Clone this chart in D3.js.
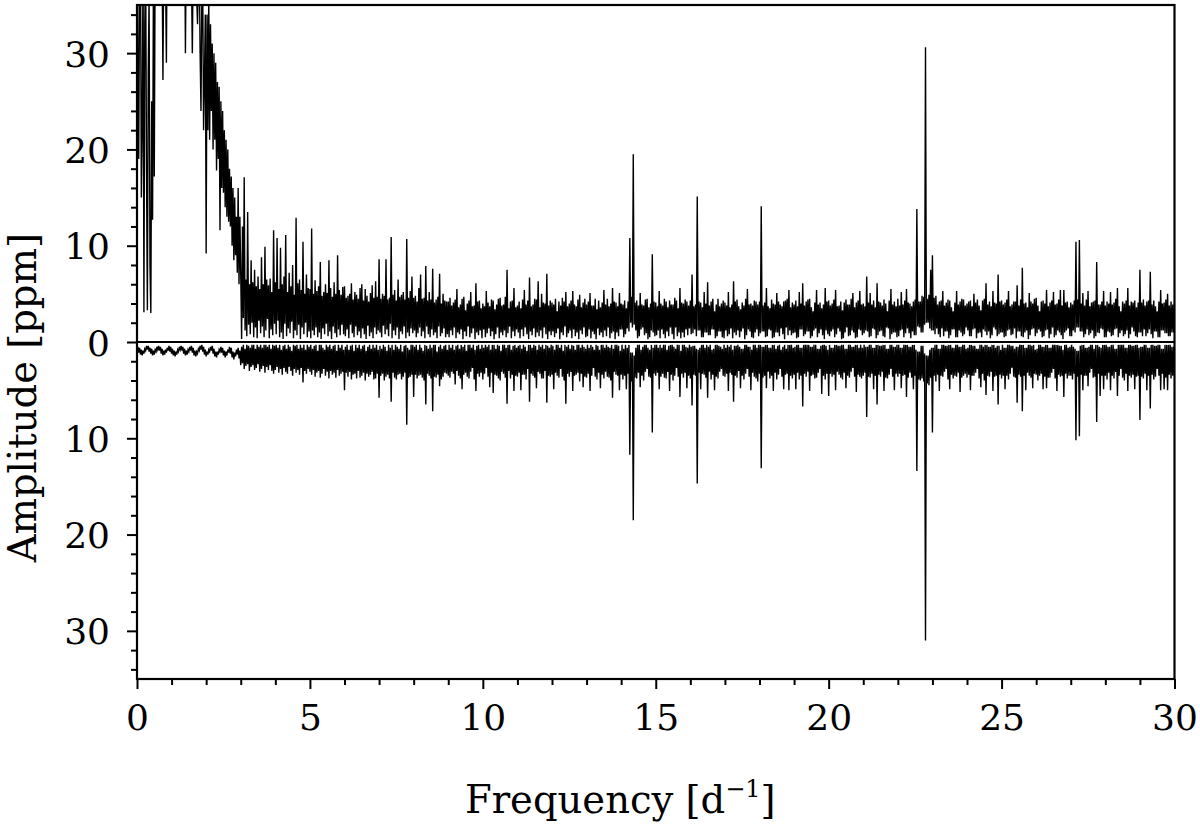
<!DOCTYPE html>
<html>
<head>
<meta charset="utf-8">
<script src="https://cdn.jsdelivr.net/npm/d3@7"></script>
<style>
  body { margin: 0; background: #fff; }
  svg { display: block; font-family: "DejaVu Serif", serif; }
</style>
</head>
<body>
<div class="chart"></div>
<script>
// periodogram sampled every 0.025 d^-1 from 0 to 30 (one row = 1 d^-1)
var freqStep = 0.025;

// upper spectrum amplitude [ppm]
var upperAmp = [
  45, 30, 19, 38, 42, 15, 22, 40, 3.1, 33, 40, 18, 3.3, 28, 36, 8, 3.0, 25, 12.7, 38, 17.2, 40, 48, 52, 55, 54, 50, 48, 46, 40, 27.2, 42, 44, 38, 29, 45, 50, 54, 58, 60,
  60, 61, 62, 63, 64, 64, 63, 62, 60, 59, 58, 56, 55, 52, 50, 46, 30, 42, 45, 44, 42, 41, 40, 38, 30, 40, 45, 42, 38, 36, 33, 38, 40, 30, 24, 36, 37, 22, 27, 34,
  9.2, 34, 22, 36, 21, 33, 24, 31, 20, 30, 21, 29, 17.8, 27, 19, 26.5, 11.6, 25, 16, 24, 15.5, 22, 14, 21, 13, 20, 12.5, 18, 12, 17.2, 10, 16, 8.5, 15, 9, 13, 7.2, 16, 6, 13,
  7.0, 0.3, 12, 2.5, 17.1, 1.2, 6.5, 0.6, 13.5, 1.8, 6.0, 0.8, 8.5, 2.0, 6.2, 0.5, 7.5, 1.5, 5.8, 0.4, 6.8, 2.2, 5.5, 0.9, 8.8, 1.6, 6.0, 0.5, 9.9, 1.2, 6.5, 2.4, 5.9, 0.4, 6.6, 1.3, 5.2, 0.7, 11.6, 1.9,
  6.2, 0.8, 10.8, 2.2, 5.5, 0.5, 9.8, 1.0, 6.0, 0.3, 6.8, 1.9, 11.1, 0.6, 5.2, 1.4, 7.2, 0.9, 5.8, 2.1, 8.0, 0.4, 4.9, 1.2, 12.9, 0.7, 6.1, 1.8, 6.5, 0.3, 5.4, 1.5, 10.4, 0.8, 5.0, 2.0, 7.0, 0.5, 5.6, 1.1,
  5.5, 0.4, 11.8, 1.2, 5.0, 0.7, 6.4, 1.5, 5.3, 0.5, 5.8, 1.0, 8.3, 0.3, 4.8, 1.4, 5.2, 0.8, 6.0, 1.9, 5.1, 0.6, 8.5, 1.1, 5.6, 0.3, 4.7, 1.6, 6.2, 0.9, 5.0, 0.5, 9.0, 1.3, 5.4, 0.7, 4.9, 1.8, 5.7, 0.8,
  5.8, 0.6, 4.6, 1.3, 4.8, 0.4, 5.0, 1.8, 6.1, 0.9, 4.4, 0.5, 5.2, 1.6, 4.9, 0.7, 4.5, 1.1, 5.6, 0.4, 6.0, 1.4, 4.3, 0.8, 5.5, 0.3, 4.8, 1.7, 4.2, 0.6, 5.1, 1.0, 5.9, 0.4, 4.6, 1.5, 6.3, 0.8, 4.7, 1.2,
  8.6, 1.0, 4.5, 0.5, 5.0, 1.7, 4.8, 0.8, 8.6, 1.3, 4.4, 0.6, 4.6, 1.9, 10.9, 0.4, 4.9, 1.2, 5.4, 0.7, 4.3, 1.5, 6.5, 0.3, 4.7, 1.1, 4.9, 0.8, 5.2, 1.6, 4.4, 0.4, 10.7, 1.0, 4.6, 0.6, 5.3, 1.4, 6.8, 0.9,
  4.6, 1.2, 4.8, 0.5, 4.2, 0.9, 5.6, 1.5, 7.0, 0.6, 4.5, 1.1, 4.6, 0.4, 7.9, 1.6, 4.3, 0.8, 5.2, 0.5, 4.4, 1.3, 7.6, 0.7, 4.1, 1.0, 4.4, 0.4, 4.7, 1.6, 7.1, 0.6, 4.0, 0.9, 5.0, 1.4, 4.3, 0.5, 4.2, 0.8,
  4.2, 0.5, 4.6, 1.2, 3.8, 0.7, 4.1, 1.5, 4.4, 0.4, 5.5, 1.0, 3.6, 0.8, 3.9, 1.3, 4.5, 0.3, 4.7, 1.1, 3.3, 0.6, 4.0, 1.6, 4.3, 0.5, 5.2, 0.9, 3.7, 1.4, 3.8, 0.3, 6.1, 1.0, 4.2, 0.7, 4.3, 1.2, 3.5, 0.4,
  4.0, 1.3, 3.7, 0.5, 5.3, 0.9, 4.1, 1.4, 3.7, 0.6, 4.4, 1.1, 4.3, 0.3, 3.4, 0.8, 3.9, 1.5, 4.5, 0.4, 4.6, 1.0, 3.8, 0.7, 3.9, 1.2, 4.7, 0.5, 7.5, 0.9, 3.5, 1.6, 4.2, 0.4, 4.3, 1.1, 5.6, 0.6, 3.6, 1.3,
  3.8, 1.0, 4.2, 0.4, 3.5, 1.3, 4.4, 0.6, 5.4, 1.5, 3.9, 0.8, 4.3, 0.3, 6.7, 1.1, 3.7, 0.7, 3.9, 1.4, 4.5, 0.5, 4.4, 1.0, 6.3, 0.6, 3.6, 1.2, 5.0, 0.4, 4.1, 1.5, 4.0, 0.8, 7.1, 0.3, 3.8, 1.1, 4.3, 0.7,
  4.1, 1.1, 3.9, 0.5, 4.5, 0.9, 3.2, 1.4, 4.2, 0.3, 3.8, 1.0, 4.6, 0.7, 4.2, 1.6, 5.2, 0.5, 3.7, 0.9, 4.0, 1.2, 4.3, 0.4, 5.3, 1.3, 3.9, 0.6, 3.7, 1.0, 4.4, 0.3, 4.9, 1.2, 3.6, 0.8, 4.1, 1.5, 4.5, 0.5,
  3.9, 0.6, 4.2, 1.3, 5.1, 0.4, 3.8, 1.1, 3.8, 0.8, 4.5, 0.3, 3.4, 1.4, 4.3, 0.7, 3.6, 1.0, 4.1, 0.5, 5.4, 1.2, 3.9, 0.6, 4.5, 1.5, 3.7, 0.4, 4.0, 0.9, 5.6, 1.1, 4.2, 0.3, 4.1, 1.0, 3.7, 0.6, 5.1, 1.3,
  4.0, 1.3, 3.9, 0.5, 4.3, 0.8, 3.5, 1.4, 4.2, 1.1, 10.8, 2.0, 4.7, 1.5, 19.5, 1.8, 4.1, 1.2, 4.3, 0.4, 3.8, 0.6, 5.1, 1.3, 3.9, 1.5, 3.8, 0.7, 4.4, 0.9, 4.5, 0.3, 3.6, 0.5, 4.0, 1.2, 9.1, 1.0, 4.2, 0.6,
  4.1, 0.7, 3.7, 1.2, 5.3, 0.4, 4.0, 1.3, 3.8, 0.8, 4.5, 0.4, 4.2, 1.1, 3.6, 0.6, 4.3, 1.5, 3.9, 0.8, 3.9, 0.3, 4.6, 1.5, 4.3, 0.6, 3.5, 1.0, 5.6, 0.4, 4.1, 1.0, 4.0, 0.5, 4.4, 1.3, 4.2, 0.7, 3.8, 1.4,
  4.3, 0.8, 7.0, 0.9, 3.7, 1.3, 3.9, 0.6, 15.1, 1.2, 4.2, 1.2, 4.1, 0.5, 3.6, 0.5, 5.2, 1.0, 4.0, 1.0, 6.2, 0.7, 3.8, 0.7, 4.2, 1.3, 4.5, 1.3, 3.2, 0.4, 3.9, 0.6, 4.5, 1.1, 3.7, 1.1, 4.0, 0.5, 4.3, 0.4,
  4.1, 1.2, 3.8, 0.6, 5.2, 0.8, 3.6, 1.4, 3.9, 0.4, 6.3, 1.0, 4.2, 0.7, 4.4, 1.2, 3.7, 0.5, 3.4, 1.1, 4.1, 1.4, 3.8, 0.3, 4.5, 0.7, 5.5, 1.3, 3.9, 1.1, 4.0, 0.5, 3.8, 0.4, 4.3, 1.0, 4.2, 1.3, 3.9, 0.6,
  4.2, 0.9, 14.1, 1.1, 3.8, 1.1, 4.1, 0.5, 5.6, 0.6, 3.7, 1.3, 3.5, 1.2, 4.4, 0.4, 4.0, 0.5, 3.9, 1.0, 5.1, 1.0, 4.2, 0.6, 3.9, 1.4, 3.7, 0.8, 4.2, 0.3, 4.3, 1.5, 4.5, 0.7, 5.4, 1.2, 3.6, 0.7, 4.1, 0.9,
  3.9, 1.0, 4.3, 0.4, 3.7, 0.5, 5.2, 1.3, 4.0, 1.3, 6.1, 0.6, 3.8, 0.8, 4.2, 1.1, 4.4, 1.1, 4.5, 0.4, 3.6, 0.6, 3.2, 1.2, 4.1, 1.4, 5.4, 0.5, 3.9, 0.9, 4.1, 1.3, 3.5, 0.7, 3.9, 0.3, 5.6, 1.2, 4.2, 0.8,
  4.3, 0.6, 3.8, 1.1, 4.0, 1.3, 4.4, 0.5, 5.4, 0.8, 3.7, 1.4, 3.8, 1.1, 4.2, 0.3, 3.3, 0.4, 4.1, 1.0, 4.4, 1.5, 3.9, 0.6, 3.9, 0.7, 4.5, 1.2, 5.1, 1.0, 3.6, 0.4, 4.1, 0.5, 4.3, 1.3, 5.3, 1.2, 3.9, 0.7,
  4.0, 0.9, 3.7, 1.2, 6.8, 1.1, 4.1, 0.5, 5.1, 0.6, 3.9, 1.4, 4.3, 1.3, 3.6, 0.4, 6.1, 0.7, 4.2, 1.1, 4.1, 1.2, 3.8, 0.6, 4.4, 0.5, 4.0, 1.5, 3.2, 1.4, 4.3, 0.3, 5.5, 0.8, 3.9, 1.0, 4.2, 1.0, 3.7, 0.5,
  4.5, 0.6, 3.8, 1.2, 5.2, 1.3, 3.9, 0.5, 4.3, 0.9, 5.5, 1.4, 4.1, 0.9, 4.0, 0.4, 3.7, 1.1, 4.2, 0.7, 4.4, 0.7, 13.8, 1.6, 4.2, 1.5, 4.2, 1.0, 4.8, 1.0, 4.7, 1.8, 30.6, 2.0, 4.5, 2.0, 4.9, 1.4, 7.5, 1.2,
  9.0, 1.2, 4.6, 0.8, 4.8, 1.4, 3.9, 0.8, 4.2, 0.5, 4.3, 1.4, 5.3, 0.6, 3.8, 1.1, 4.1, 1.1, 4.4, 0.4, 4.3, 0.7, 3.6, 1.3, 3.2, 1.3, 4.1, 0.5, 5.3, 0.5, 3.9, 1.2, 4.2, 1.0, 4.5, 0.6, 4.4, 0.8, 3.8, 1.5,
  4.0, 1.2, 4.2, 0.6, 4.3, 0.6, 3.7, 1.3, 5.0, 1.4, 4.1, 0.4, 4.4, 0.9, 3.8, 1.0, 3.3, 0.5, 4.3, 1.3, 4.5, 1.1, 6.1, 0.7, 3.9, 1.1, 4.2, 0.4, 3.7, 0.7, 5.3, 1.5, 4.1, 1.3, 4.0, 0.6, 7.0, 0.8, 4.2, 1.0,
  4.3, 1.0, 3.9, 0.5, 4.1, 0.6, 4.4, 1.2, 5.3, 1.3, 3.7, 0.7, 3.9, 0.8, 4.2, 1.4, 4.2, 0.4, 5.9, 1.1, 3.8, 1.1, 4.4, 0.6, 7.7, 0.5, 4.0, 1.0, 4.1, 1.2, 3.6, 0.3, 5.1, 0.7, 4.2, 1.3, 4.0, 1.4, 4.5, 0.6,
  4.6, 0.9, 3.8, 1.3, 3.2, 1.1, 4.2, 0.5, 4.3, 0.6, 4.0, 1.2, 5.4, 1.3, 3.7, 0.4, 4.1, 0.8, 4.3, 1.5, 5.2, 0.5, 3.9, 0.7, 4.0, 1.2, 4.4, 1.0, 5.4, 0.7, 3.8, 0.3, 5.4, 1.0, 4.1, 1.2, 4.2, 1.4, 3.6, 0.6,
  4.1, 0.6, 3.9, 1.2, 4.3, 1.0, 10.4, 1.5, 4.4, 1.5, 10.6, 1.1, 4.0, 1.1, 5.1, 0.5, 3.8, 0.8, 4.4, 1.3, 5.3, 0.7, 3.7, 0.9, 4.1, 1.2, 4.2, 0.4, 4.3, 0.6, 8.3, 1.0, 3.9, 0.9, 3.9, 1.4, 4.2, 1.3, 5.3, 0.5,
  3.8, 0.5, 4.2, 1.1, 4.0, 1.0, 5.2, 0.6, 3.9, 0.7, 4.1, 1.3, 4.5, 1.4, 5.6, 0.5, 3.7, 0.9, 3.2, 1.2, 4.2, 0.6, 4.0, 0.8, 4.3, 1.2, 5.6, 0.4, 3.8, 0.8, 4.2, 1.5, 4.1, 1.1, 4.3, 0.6, 3.6, 0.5, 4.1, 1.0,
  7.5, 1.0, 4.1, 0.6, 4.4, 1.3, 3.8, 0.6, 4.2, 0.9, 4.3, 1.3, 7.3, 0.8, 3.9, 0.4, 4.3, 1.1, 3.7, 1.1, 3.2, 0.5, 4.2, 0.5, 5.4, 1.2, 4.0, 1.2, 4.1, 0.9, 4.4, 0.9, 5.0, 0.6, 3.8, 0.6, 4.2, 1.0, 3.9, 1.0,
  4.0
];

// lower (mirrored) spectrum amplitude [ppm], drawn downwards
var lowerAmp = [
  0.9, 0.5, 1.1, 0.6, 1.3, 0.8, 1.4, 0.9, 1.2, 0.7, 0.9, 0.4, 0.8, 0.4, 1.0, 0.6, 1.2, 0.7, 1.4, 0.9, 1.3, 0.8, 1.0, 0.5, 0.8, 0.4, 0.9, 0.5, 1.2, 0.7, 1.4, 0.9, 1.3, 0.8, 1.1, 0.6, 0.9, 0.4, 1.0, 0.5,
  1.2, 0.7, 1.4, 0.9, 1.5, 1.0, 1.3, 0.8, 1.0, 0.5, 0.8, 0.4, 0.9, 0.5, 1.2, 0.7, 1.4, 0.9, 1.3, 0.8, 1.0, 0.5, 0.9, 0.4, 1.1, 0.6, 1.4, 0.9, 1.5, 1.0, 1.2, 0.7, 0.9, 0.4, 0.8, 0.3, 1.0, 0.5, 1.3, 0.8,
  1.5, 1.0, 1.3, 0.8, 1.0, 0.5, 0.9, 0.4, 1.2, 0.7, 1.5, 1.0, 1.6, 1.0, 1.3, 0.8, 1.0, 0.5, 1.1, 0.6, 1.4, 0.9, 1.6, 1.0, 1.4, 0.8, 1.1, 0.5, 1.2, 0.6, 1.6, 1.0, 1.8, 1.1, 1.5, 0.8, 1.3, 0.6, 1.7, 0.9,
  2.4, 0.5, 2.2, 0.3, 2.8, 0.7, 2.5, 0.3, 2.3, 0.4, 3.0, 0.6, 2.6, 0.3, 2.4, 0.3, 2.9, 0.7, 2.7, 0.3, 2.3, 0.5, 3.1, 0.3, 2.8, 0.6, 2.5, 0.3, 3.2, 0.3, 2.6, 0.5, 2.9, 0.3, 2.4, 0.7, 3.0, 0.3, 3.3, 0.4,
  2.9, 0.3, 2.6, 0.6, 3.2, 0.3, 2.8, 0.8, 3.4, 0.4, 2.7, 0.3, 3.1, 0.7, 3.3, 0.3, 2.6, 0.5, 3.0, 0.9, 3.5, 0.3, 2.8, 0.4, 3.2, 0.3, 2.9, 0.7, 3.4, 0.3, 2.7, 0.6, 4.2, 0.3, 3.0, 0.8, 3.3, 0.3, 2.8, 0.5,
  3.1, 0.3, 3.4, 0.7, 2.9, 0.4, 3.6, 0.3, 3.2, 0.9, 3.0, 0.3, 3.7, 0.3, 3.3, 0.6, 2.8, 0.8, 3.5, 0.3, 3.1, 0.5, 3.8, 0.3, 3.0, 0.7, 3.4, 0.4, 3.2, 0.3, 3.7, 0.9, 2.9, 0.3, 3.5, 0.6, 3.3, 0.3, 3.1, 0.8,
  5.0, 0.5, 3.2, 0.3, 3.6, 0.8, 3.1, 0.4, 3.9, 0.3, 3.4, 0.9, 3.3, 0.3, 3.8, 0.6, 3.0, 0.3, 3.7, 0.7, 3.5, 0.4, 3.2, 0.3, 4.0, 0.9, 3.3, 0.5, 3.6, 0.3, 3.4, 0.7, 3.1, 0.3, 3.9, 0.6, 3.8, 0.3, 3.3, 0.8,
  5.8, 0.4, 3.5, 0.7, 3.3, 0.3, 4.0, 0.5, 3.6, 0.9, 3.4, 0.3, 3.8, 0.6, 6.2, 0.3, 3.2, 0.8, 3.7, 0.3, 3.9, 0.5, 3.4, 0.7, 3.3, 0.3, 3.9, 1.0, 3.6, 0.4, 3.2, 0.3, 8.6, 0.6, 3.7, 0.8, 3.6, 0.3, 3.4, 0.3,
  5.7, 0.5, 3.4, 0.3, 3.8, 0.8, 3.5, 0.3, 3.4, 0.6, 3.7, 0.9, 4.0, 0.3, 6.5, 0.4, 3.3, 0.7, 3.5, 0.3, 3.8, 0.6, 7.2, 0.3, 3.6, 0.3, 3.7, 1.0, 3.4, 0.5, 4.6, 0.3, 3.9, 0.7, 3.6, 0.4, 3.2, 0.3, 3.3, 0.8,
  3.5, 0.3, 3.7, 0.6, 3.1, 0.3, 3.3, 0.8, 4.4, 0.4, 3.0, 0.3, 3.5, 0.7, 3.8, 0.3, 4.9, 0.5, 3.4, 0.3, 3.2, 0.9, 3.6, 0.3, 3.8, 0.3, 3.1, 0.6, 2.7, 0.3, 3.9, 0.8, 5.1, 0.4, 3.3, 0.3, 3.6, 0.7, 3.2, 0.3,
  3.9, 0.6, 3.3, 0.3, 2.7, 0.5, 3.6, 0.3, 4.7, 0.8, 3.2, 0.3, 5.3, 0.3, 3.4, 0.7, 3.5, 0.3, 3.8, 0.4, 4.0, 0.9, 3.1, 0.3, 3.3, 0.3, 3.7, 0.6, 6.4, 0.3, 3.0, 0.3, 3.8, 0.8, 3.4, 0.4, 5.1, 0.3, 3.5, 0.6,
  3.6, 0.4, 3.2, 0.3, 5.0, 0.7, 3.4, 0.3, 3.4, 0.5, 3.9, 0.9, 2.8, 0.3, 6.2, 0.3, 3.3, 0.6, 3.5, 0.3, 3.7, 0.4, 4.8, 0.8, 3.1, 0.3, 3.3, 0.5, 3.8, 0.3, 3.8, 0.7, 3.0, 0.3, 6.3, 0.4, 3.5, 0.6, 3.6, 0.3,
  3.4, 0.4, 4.9, 0.8, 3.2, 0.3, 3.5, 0.3, 3.7, 0.6, 2.8, 0.3, 3.6, 0.9, 4.0, 0.3, 6.4, 0.5, 3.3, 0.3, 3.6, 0.7, 3.1, 0.3, 5.1, 0.4, 3.5, 0.8, 3.4, 0.3, 3.2, 0.3, 4.1, 0.6, 3.3, 0.3, 4.7, 0.5, 3.6, 0.7,
  3.7, 0.3, 3.3, 0.6, 5.1, 0.3, 3.5, 0.5, 2.7, 0.8, 3.6, 0.3, 3.9, 0.4, 3.2, 0.8, 4.8, 0.3, 3.4, 0.3, 3.8, 0.6, 3.1, 0.3, 3.6, 0.5, 3.7, 0.6, 4.0, 0.3, 5.8, 0.7, 3.1, 0.3, 3.4, 0.3, 3.5, 0.4, 5.0, 0.9,
  3.4, 0.3, 3.9, 0.7, 3.5, 0.3, 4.9, 0.6, 3.3, 0.3, 11.7, 1.1, 4.1, 1.1, 18.5, 1.4, 3.7, 0.6, 3.8, 0.3, 3.2, 0.3, 4.7, 0.8, 3.5, 0.5, 4.0, 0.3, 3.1, 0.3, 2.8, 0.6, 3.6, 0.8, 3.7, 0.3, 9.4, 0.6, 3.3, 0.3,
  3.5, 0.3, 3.2, 0.6, 4.9, 0.3, 3.6, 0.6, 3.3, 0.3, 3.7, 0.3, 3.8, 0.8, 3.1, 0.4, 5.1, 0.3, 3.4, 0.3, 4.0, 0.5, 3.5, 0.7, 2.7, 0.3, 3.6, 0.3, 5.7, 0.9, 3.3, 0.3, 3.7, 0.3, 3.2, 0.5, 4.8, 0.6, 3.5, 0.3,
  3.8, 0.5, 6.6, 0.4, 3.4, 0.4, 3.5, 0.7, 14.7, 0.8, 3.2, 0.6, 4.9, 0.3, 3.3, 0.3, 3.4, 0.6, 3.7, 0.3, 5.8, 0.5, 3.1, 0.3, 3.9, 0.8, 3.4, 0.7, 5.0, 0.3, 3.6, 0.3, 3.8, 0.4, 3.1, 0.5, 2.8, 0.7, 3.5, 0.3,
  3.6, 0.6, 3.3, 0.3, 5.1, 0.5, 3.2, 0.3, 3.4, 0.8, 6.2, 0.4, 3.5, 0.4, 3.7, 0.3, 3.0, 0.5, 4.8, 0.7, 3.5, 0.7, 3.9, 0.3, 3.3, 0.3, 2.8, 0.5, 3.6, 0.5, 5.0, 0.8, 3.2, 0.3, 3.6, 0.3, 3.8, 0.6, 4.1, 0.3,
  3.3, 0.3, 13.1, 0.5, 3.7, 0.5, 3.5, 0.3, 4.8, 0.3, 3.1, 0.6, 3.8, 0.6, 3.5, 0.3, 5.1, 0.3, 3.2, 0.7, 3.9, 0.4, 3.4, 0.3, 2.8, 0.8, 3.6, 0.5, 4.9, 0.3, 3.4, 0.7, 3.3, 0.3, 5.0, 0.3, 3.5, 0.3, 3.8, 0.6,
  3.4, 0.5, 4.9, 0.3, 3.2, 0.3, 3.9, 0.6, 3.5, 0.6, 6.7, 0.3, 3.3, 0.3, 3.6, 0.3, 3.1, 0.3, 5.1, 0.5, 3.5, 0.5, 3.4, 0.3, 3.8, 0.3, 3.7, 0.7, 3.2, 0.7, 2.8, 0.4, 5.4, 0.3, 3.5, 0.3, 3.9, 0.4, 3.3, 0.8,
  5.6, 0.3, 3.3, 0.6, 3.6, 0.6, 3.4, 0.3, 5.0, 0.3, 3.1, 0.4, 3.4, 0.4, 3.7, 0.3, 3.9, 0.3, 3.2, 0.7, 4.8, 0.7, 3.5, 0.3, 3.7, 0.3, 3.1, 0.5, 2.7, 0.5, 3.6, 0.3, 5.2, 0.3, 3.4, 0.6, 3.6, 0.3, 3.8, 0.6,
  3.5, 0.3, 3.2, 0.5, 7.8, 0.5, 3.6, 0.3, 3.7, 0.3, 3.3, 0.6, 4.9, 0.6, 3.5, 0.3, 6.5, 0.3, 3.4, 0.4, 3.6, 0.4, 3.1, 0.3, 5.1, 0.3, 3.7, 0.7, 3.8, 0.7, 3.4, 0.3, 2.8, 0.3, 3.6, 0.5, 5.0, 0.5, 3.3, 0.3,
  3.6, 0.3, 3.3, 0.6, 4.8, 0.6, 3.5, 0.3, 3.4, 0.3, 5.7, 0.3, 3.7, 0.5, 3.2, 0.5, 3.7, 0.3, 4.9, 0.3, 3.5, 0.8, 13.4, 1.0, 3.9, 1.0, 4.0, 0.4, 3.8, 0.4, 4.1, 1.2, 31.0, 1.4, 4.3, 1.4, 4.5, 0.8, 3.7, 0.6,
  9.4, 0.6, 3.5, 0.3, 4.1, 0.3, 3.4, 0.7, 5.1, 0.7, 3.5, 0.3, 3.6, 0.3, 3.1, 0.4, 2.8, 0.4, 3.9, 0.3, 4.9, 0.3, 3.4, 0.6, 3.8, 0.6, 3.5, 0.3, 3.6, 0.3, 3.2, 0.5, 5.2, 0.5, 3.7, 0.3, 3.5, 0.3, 3.3, 0.7,
  3.7, 0.6, 3.4, 0.3, 5.0, 0.3, 3.5, 0.4, 3.5, 0.4, 3.2, 0.7, 2.8, 0.7, 3.8, 0.3, 4.7, 0.3, 3.3, 0.5, 4.0, 0.3, 5.5, 0.3, 3.5, 0.5, 3.6, 0.5, 3.1, 0.3, 5.1, 0.3, 3.6, 0.6, 3.5, 0.4, 6.5, 0.4, 3.4, 0.8,
  3.8, 0.3, 3.5, 0.6, 4.9, 0.6, 3.5, 0.3, 3.9, 0.3, 3.3, 0.4, 2.7, 0.4, 3.6, 0.7, 3.7, 0.5, 6.3, 0.5, 3.4, 0.3, 3.6, 0.3, 7.2, 0.3, 3.5, 0.6, 5.0, 0.6, 3.2, 0.3, 3.5, 0.3, 3.7, 0.4, 4.8, 0.3, 3.3, 0.8,
  3.4, 0.7, 4.0, 0.3, 3.5, 0.3, 3.3, 0.5, 4.9, 0.5, 3.6, 0.3, 4.8, 0.3, 3.7, 0.6, 3.7, 0.6, 3.2, 0.3, 2.8, 0.3, 3.8, 0.3, 5.1, 0.3, 3.4, 0.4, 3.6, 0.4, 3.5, 0.8, 5.7, 0.3, 3.3, 0.3, 3.8, 0.6, 3.5, 0.5,
  3.5, 0.3, 3.9, 0.5, 3.3, 0.7, 10.2, 0.9, 3.6, 0.9, 9.8, 0.4, 3.4, 0.3, 5.0, 0.3, 3.5, 0.6, 3.5, 0.6, 4.6, 0.5, 3.2, 0.3, 2.8, 0.3, 3.7, 0.7, 3.6, 0.3, 8.3, 0.3, 3.3, 0.5, 5.6, 0.6, 3.5, 0.3, 4.9, 0.3,
  3.5, 0.3, 3.9, 0.5, 3.2, 0.5, 5.0, 0.3, 3.5, 0.3, 3.8, 0.7, 3.1, 0.7, 5.6, 0.3, 3.5, 0.3, 2.8, 0.3, 3.7, 0.3, 4.0, 0.6, 3.3, 0.6, 5.1, 0.3, 3.5, 0.3, 3.7, 0.4, 3.4, 0.4, 4.9, 0.3, 3.6, 0.3, 3.5, 0.6,
  8.1, 0.5, 3.6, 0.5, 3.8, 0.3, 3.3, 0.3, 5.0, 0.6, 3.5, 0.6, 6.9, 0.3, 3.4, 0.3, 3.9, 0.4, 3.6, 0.4, 2.8, 0.3, 3.5, 0.3, 5.0, 0.7, 3.3, 0.7, 4.9, 0.3, 3.7, 0.3, 5.0, 0.3, 3.4, 0.3, 3.8, 0.5, 3.5, 0.5,
  3.5
];

var xTickValues = [0, 5, 10, 15, 20, 25, 30];
var yTickValues = [-30, -20, -10, 0, 10, 20, 30];
var xDomain = [0, 30];
var yDomain = [-35, 35];

var svgWidth = 1200;
var svgHeight = 825;
var margin = { top: 5, right: 25.5, bottom: 146, left: 137 };
var width = svgWidth - margin.left - margin.right;
var height = svgHeight - margin.top - margin.bottom;

var svg = d3.select(".chart")
  .append("svg")
  .attr("width", svgWidth)
  .attr("height", svgHeight);

var chart = svg.append("g")
  .attr("transform", `translate(${margin.left}, ${margin.top})`);

var xScale = d3.scaleLinear().domain(xDomain).range([0, width]);
var yScale = d3.scaleLinear().domain(yDomain).range([height, 0]);

// quick sanity check on the typed series
if (upperAmp.length !== lowerAmp.length) {
  svg.append("text").attr("x", 600).attr("y", 400).attr("fill", "red")
    .text("length mismatch " + upperAmp.length + " / " + lowerAmp.length);
}

// clip the spectra to the plot frame
svg.append("defs").append("clipPath")
  .attr("id", "plot-clip")
  .append("rect")
  .attr("width", width)
  .attr("height", height);

var plotArea = chart.append("g").attr("clip-path", "url(#plot-clip)");

var upperLine = d3.line()
  .x(function(d, i) { return xScale(i * freqStep); })
  .y(function(d) { return yScale(d); });

var lowerLine = d3.line()
  .x(function(d, i) { return xScale(i * freqStep); })
  .y(function(d) { return yScale(-d); });

plotArea.append("path")
  .datum(upperAmp)
  .attr("d", upperLine)
  .attr("fill", "none")
  .attr("stroke", "#000")
  .attr("stroke-width", 1.4);

plotArea.append("path")
  .datum(lowerAmp)
  .attr("d", lowerLine)
  .attr("fill", "none")
  .attr("stroke", "#000")
  .attr("stroke-width", 1.4);

// zero line
plotArea.append("line")
  .attr("x1", 0)
  .attr("x2", width)
  .attr("y1", yScale(0))
  .attr("y2", yScale(0))
  .attr("stroke", "#000")
  .attr("stroke-width", 2);

// minor ticks
var xMinor = d3.range(1, 30).filter(function(d) { return d % 5 !== 0; });
var yMinor = d3.range(-34, 35, 2).filter(function(d) { return d % 10 !== 0; });

chart.append("g")
  .attr("class", "minor")
  .attr("transform", `translate(0, ${height})`)
  .call(d3.axisBottom(xScale).tickValues(xMinor).tickSize(6).tickSizeOuter(0).tickFormat(""));

chart.append("g")
  .attr("class", "minor")
  .call(d3.axisLeft(yScale).tickValues(yMinor).tickSize(6).tickSizeOuter(0).tickFormat(""));

// major ticks + labels
var xAxis = chart.append("g")
  .attr("transform", `translate(0, ${height})`)
  .call(d3.axisBottom(xScale).tickValues(xTickValues).tickSize(10).tickSizeOuter(0));

xAxis.selectAll("text")
  .attr("y", 51)
  .attr("dy", 0);

var yAxis = chart.append("g")
  .call(d3.axisLeft(yScale).tickValues(yTickValues).tickSize(10).tickSizeOuter(0)
    .tickFormat(function(d) { return Math.abs(d); }));

yAxis.selectAll("text")
  .attr("x", -27)
  .attr("dy", 13);

chart.selectAll(".domain").remove();
chart.selectAll(".tick line").attr("stroke", "#000").attr("stroke-width", 2);
chart.selectAll(".tick text")
  .attr("fill", "#000")
  .style("font-family", "'DejaVu Serif', serif")
  .style("font-size", "36px");

// plot frame
chart.append("rect")
  .attr("width", width)
  .attr("height", height)
  .attr("fill", "none")
  .attr("stroke", "#000")
  .attr("stroke-width", 2.2);

// axis titles
var xTitle = svg.append("text")
  .attr("x", 465)
  .attr("y", 813)
  .style("font-size", "38.5px")
  .attr("fill", "#000");
xTitle.append("tspan").text("Frequency [d");
xTitle.append("tspan").attr("dy", -16).style("font-size", "24px").text("\u22121");
xTitle.append("tspan").attr("dy", 16).text("]");

svg.append("text")
  .attr("transform", "translate(36, 233) rotate(-90)")
  .attr("text-anchor", "end")
  .style("font-size", "38.5px")
  .attr("fill", "#000")
  .text("Amplitude [ppm]");
</script>
</body>
</html>
